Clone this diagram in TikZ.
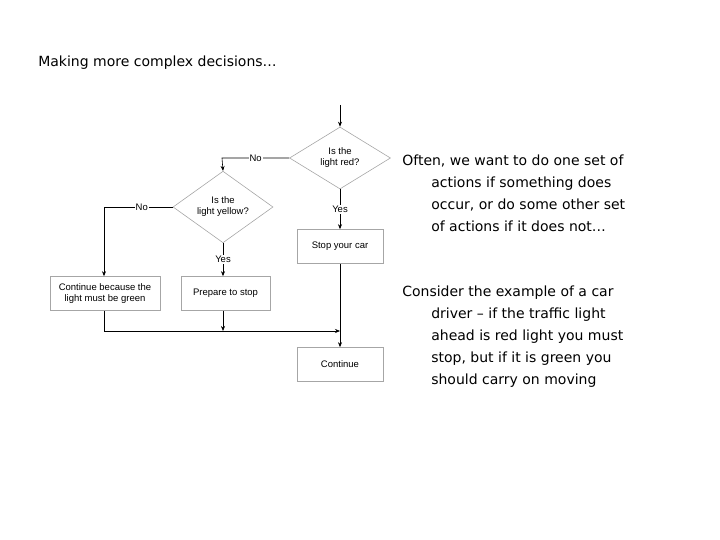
\documentclass[tikz,border=0pt]{standalone}
\usepackage{fontspec}
\setsansfont{Liberation Sans}
\newfontfamily\notefont{DejaVu Sans}
\usetikzlibrary{arrows.meta,shapes.geometric,positioning}

\begin{document}
\begin{tikzpicture}[
    x = 1pt, y = -1pt, % pixel grid of the slide
    >={Stealth[length=5pt,width=4pt]},
    semithick,
    font = \sffamily\fontsize{9.5}{11}\selectfont
    ]

    \tikzset{
    decision/.style = {shape=diamond, draw=gray!70, minimum width=101pt, minimum height=62pt, inner sep=0pt, align=center},
    action/.style = {draw=gray!70, minimum width=86pt, minimum height=34pt, inner sep=1pt, align=center},
    note/.style = {anchor=base west, font=\notefont\fontsize{14}{16}\selectfont, inner sep=0pt}
    }
    \useasboundingbox (0,0) rectangle (720,540);

    \node[anchor=base west, inner sep=0pt, font=\notefont\fontsize{14}{16}\selectfont] (title) at (38,67) {Making more complex decisions\dots};

    \coordinate (start) at (340,105);
    \node[decision] (red) at (340,158) {Is the\\light red?};
    \node[decision, minimum width=100pt] (yellow) at (223,207) {Is the\\light yellow?};
    \node[action] (stop) at (340,246.5) {Stop your car};
    \node[action, minimum width=110pt] (green) at (105,293.5) {Continue because the\\light must be green};
    \node[action, minimum width=89pt] (prepare) at (225.5,293.5) {Prepare to stop};
    \node[action] (cont) at (340,364.5) {Continue};
    \coordinate (join) at (340,331);

    \draw[->] (start) -- (red);
    \draw[->] (red.west) -- node[fill=white, inner sep=1pt]{No} (222,158) -- (yellow.north);
    \draw[->] (red.south) -- node[fill=white, inner sep=1pt]{Yes} (stop.north);
    \draw[->] (yellow.west) -- node[fill=white, inner sep=1pt, pos=0.45]{No} (104,207) -- (green.north -| 104,0);
    \draw[->] (yellow.south) -- node[fill=white, inner sep=1pt]{Yes} (prepare.north -| yellow.south);
    \draw[->] (stop.south) -- (cont.north);
    \draw[->] (green.south -| 104,0) -- (104,331) -- (join);
    \draw[->] (prepare.south -| yellow.south) -- (yellow.south |- join);

    \node[note] (n1) at (402,166) {Often, we want to do one set of};
    \node[note] (n2) at (431,188) {actions if something does};
    \node[note] (n3) at (431,210) {occur, or do some other set};
    \node[note] (n4) at (431,232) {of actions if it does not\dots};
    \node[note] (m1) at (402,296) {Consider the example of a car};
    \node[note] (m2) at (431,318) {driver \textendash{} if the traffic light};
    \node[note] (m3) at (431,340) {ahead is red light you must};
    \node[note] (m4) at (431,362) {stop, but if it is green you};
    \node[note] (m5) at (431,384) {should carry on moving};
\end{tikzpicture}
\end{document}
